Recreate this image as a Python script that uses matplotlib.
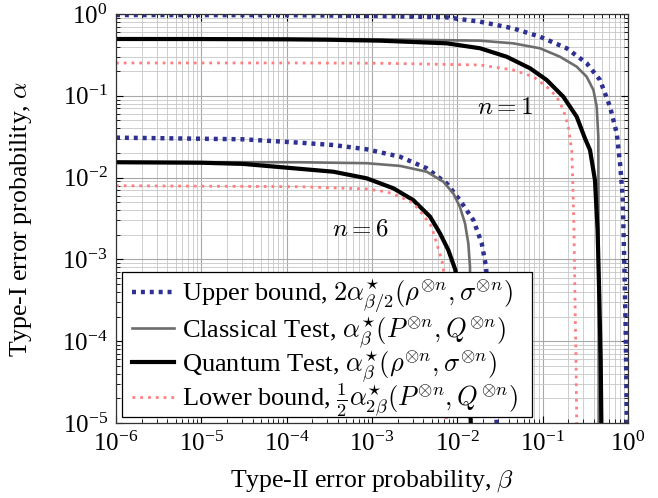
import numpy as np
import matplotlib
matplotlib.use("Agg")
import matplotlib.pyplot as plt
from matplotlib.ticker import LogLocator, NullFormatter
from matplotlib.patches import Rectangle

plt.rcParams['font.family'] = ['Liberation Serif', 'DejaVu Serif']
plt.rcParams['mathtext.fontset'] = 'cm'

# ---- data ----
# n = 1
up1_beta = [1e-6, 1e-4, 1.24e-3, 7.5e-3, 0.0185, 0.045, 0.093, 0.191, 0.328, 0.47, 0.615, 0.738, 0.806, 0.867, 0.905, 0.94, 0.966, 0.975]
up1_alpha = [0.972, 0.968, 0.946, 0.91, 0.805, 0.668, 0.528, 0.381, 0.25, 0.156, 0.0736, 0.0348, 0.0151, 5.85e-3, 9.0e-4, 1.37e-4, 1.3e-5, 5e-6]

cl1_beta = [1e-6, 1e-4, 1.24e-3, 0.0185, 0.045, 0.093, 0.16, 0.2505, 0.328, 0.393, 0.43, 0.449, 0.452, 0.453, 0.453]
cl1_alpha = [0.497, 0.496, 0.49, 0.472, 0.438, 0.381, 0.30, 0.227, 0.171, 0.118, 0.0736, 0.0316, 1e-3, 1e-5, 5e-6]

qu1_beta = [1e-6, 1e-5, 1e-4, 3e-4, 1.24e-3, 7.5e-3, 0.0185, 0.0379, 0.0711, 0.1115, 0.1745, 0.2505, 0.313, 0.359, 0.41, 0.44, 0.461, 0.479, 0.487, 0.488]
qu1_alpha = [0.495, 0.494, 0.49, 0.485, 0.472, 0.438, 0.381, 0.30, 0.217, 0.156, 0.0975, 0.0555, 0.0302, 0.0217, 9.3e-3, 2.29e-3, 3.5e-4, 5.4e-5, 1.09e-5, 5e-6]

lo1_beta = [1e-6, 1e-4, 1.24e-3, 0.0185, 0.045, 0.0778, 0.1115, 0.146, 0.175, 0.2, 0.208, 0.219, 0.225, 0.233, 0.239, 0.246, 0.2505, 0.251]
lo1_alpha = [0.252, 0.252, 0.25, 0.238, 0.207, 0.171, 0.129, 0.0975, 0.067, 0.042, 0.031, 0.0217, 9.3e-3, 2.29e-3, 3.5e-4, 5.4e-5, 1.09e-5, 5e-6]

# n = 6
up6_beta = [1e-6, 3.1e-5, 1.43e-4, 3.52e-4, 8.67e-4, 2.13e-3, 4.38e-3, 7.5e-3, 0.0107, 0.0154, 0.0193, 0.0217, 0.0248, 0.0289, 0.029]
up6_alpha = [0.0308, 0.0294, 0.0267, 0.025, 0.0222, 0.018, 0.013, 8.5e-3, 5.3e-3, 3.03e-3, 1.58e-3, 8.1e-4, 9.3e-5, 1e-5, 5e-6]

cl6_beta = [1e-6, 1.43e-4, 8.67e-4, 2.13e-3, 4.38e-3, 6.86e-3, 8.98e-3, 0.0107, 0.0123, 0.01345, 0.01407, 0.0142, 0.0143, 0.0143]
cl6_alpha = [0.0155, 0.0154, 0.015, 0.0139, 0.0118, 8.9e-3, 6.4e-3, 4.4e-3, 2.76e-3, 1.57e-3, 8.1e-4, 1e-4, 1e-5, 5e-6]

qu6_beta = [1e-6, 1e-5, 3.1e-5, 1.43e-4, 3.52e-4, 8.67e-4, 1.78e-3, 3.05e-3, 4.79e-3, 6.27e-3, 7.84e-3, 9.5e-3, 0.0118, 0.01435, 0.0144]
qu6_alpha = [0.0154, 0.0152, 0.0147, 0.0128, 0.0118, 9.8e-3, 7.4e-3, 5.3e-3, 3.33e-3, 2.08e-3, 1.30e-3, 7.4e-4, 1e-4, 1.09e-5, 5e-6]

lo6_beta = [1e-6, 1.43e-4, 8.67e-4, 1.49e-3, 2.13e-3, 3.05e-3, 3.98e-3, 5.0e-3, 5.73e-3, 6.56e-3, 6.86e-3, 7.18e-3, 7.47e-3, 7.5e-3]
lo6_alpha = [7.96e-3, 7.74e-3, 7.26e-3, 6.7e-3, 5.85e-3, 4.85e-3, 3.49e-3, 2.51e-3, 1.57e-3, 9.8e-4, 8.1e-4, 9.3e-5, 1.0e-5, 5e-6]

labels = [r'Upper bound, $2\alpha^{\star}_{\beta/2}(\rho^{\otimes n},\sigma^{\otimes n})$',
          r'Classical Test, $\alpha^{\star}_{\beta}(P^{\otimes n},Q^{\otimes n})$',
          r'Quantum Test, $\alpha^{\star}_{\beta}(\rho^{\otimes n},\sigma^{\otimes n})$',
          r'Lower bound, $\frac{1}{2}\alpha^{\star}_{2\beta}(P^{\otimes n},Q^{\otimes n})$']

# ---- styles ----
blue = '#2e3192'
gray = '#6d6d6d'
pink = '#ff7f80'
st_up = dict(color=blue, lw=3.2, ls=(0, (0.9, 1.1)), dash_capstyle='butt')
st_cl = dict(color=gray, lw=1.9, ls='-')
st_qu = dict(color='black', lw=3.0, ls='-')
st_lo = dict(color=pink, lw=2.0, ls=(0, (1, 1.8)))

fig = plt.figure(figsize=(6.58, 4.98), dpi=100)
ax = fig.add_axes([116/658, 1-423/498, 512/658, 409/498])
ax.set_xscale('log')
ax.set_yscale('log')
ax.set_xlim(1e-6, 1)
ax.set_ylim(1e-5, 1)

ax.plot(up1_beta, up1_alpha, label=labels[0], **st_up)
ax.plot(cl1_beta, cl1_alpha, label=labels[1], **st_cl)
ax.plot(qu1_beta, qu1_alpha, label=labels[2], **st_qu)
ax.plot(lo1_beta, lo1_alpha, label=labels[3], **st_lo)
ax.plot(up6_beta, up6_alpha, **st_up)
ax.plot(cl6_beta, cl6_alpha, **st_cl)
ax.plot(qu6_beta, qu6_alpha, **st_qu)
ax.plot(lo6_beta, lo6_alpha, **st_lo)

for axis in (ax.xaxis, ax.yaxis):
    axis.set_major_locator(LogLocator(base=10, numticks=20))
    axis.set_minor_locator(LogLocator(base=10, subs=np.arange(2, 10), numticks=100))
    axis.set_minor_formatter(NullFormatter())

ax.grid(True, which='major', color='#a8a8a8', lw=0.8)
ax.grid(True, which='minor', color='#c6c6c6', lw=0.6)
ax.set_axisbelow(True)
ax.tick_params(which='both', direction='in', top=True, right=True, labelsize=18)
ax.tick_params(which='major', length=5, width=0.8, pad=6)
ax.tick_params(which='minor', length=3, width=0.6)
for s in ax.spines.values():
    s.set_color('#333333')
    s.set_linewidth(0.9)

ax.set_xlabel(r'Type-II error probability, $\beta$', fontsize=18.5, labelpad=9)
ax.set_ylabel(r'Type-I error probability, $\alpha$', fontsize=18.5, labelpad=20)

ax.text(0.0362, 0.071, r'$n = 1$', fontsize=18, ha='center', va='center')
ax.text(7.2e-4, 2.29e-3, r'$n = 6$', fontsize=18, ha='center', va='center')

# legend box (frame drawn separately for exact padding)
ax.add_patch(Rectangle((0.0111, 0.0154), 0.8014, 0.3546, transform=ax.transAxes,
                       facecolor='white', edgecolor='black', lw=0.9, zorder=4))
leg = ax.legend(loc='center left', bbox_to_anchor=(0.0307, 0.183), borderaxespad=0,
                fontsize=19, frameon=False, handlelength=1.6, handletextpad=0.32,
                labelspacing=-0.06, borderpad=0)
leg.set_zorder(5)

fig.savefig('out.png', dpi=100)
